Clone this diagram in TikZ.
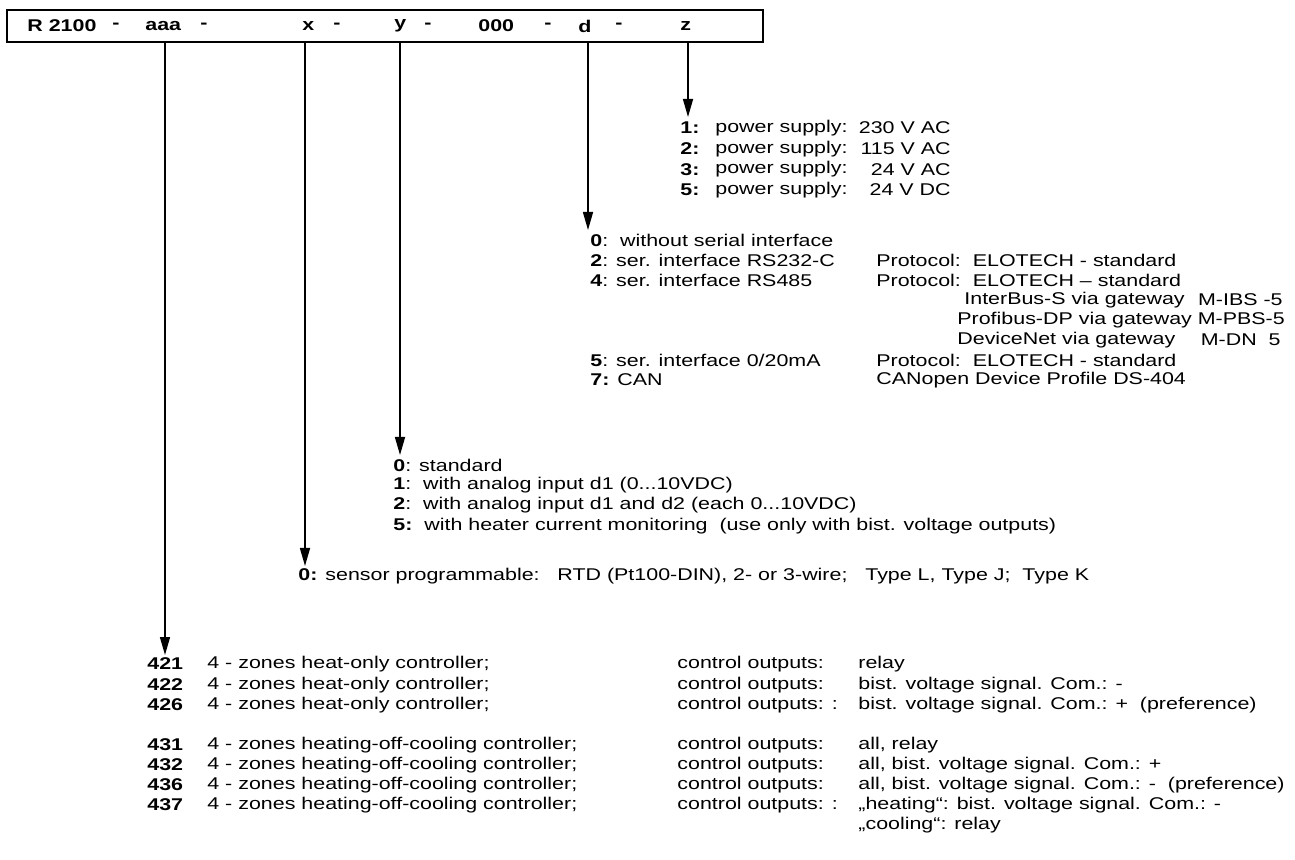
\documentclass[tikz,border=0pt]{standalone}
\usepackage{fontspec}
\setmainfont{Liberation Sans}[FakeStretch=1.26]
\usetikzlibrary{arrows.meta}

\tikzset{
  entry/.style={anchor=west, inner sep=0pt},
  rentry/.style={anchor=east, inner sep=0pt},
  field/.style={entry, font=\fontsize{8.5}{10}\selectfont\bfseries},
  lead/.style={line width=0.75pt, -{Triangle[width=5pt,length=9pt]}},
}

\begin{document}
\begin{tikzpicture}[x=0.5pt, y=-0.5pt, font=\fontsize{8.5}{10}\selectfont]
    \useasboundingbox (0,0) rectangle (1295,860);

    % Type code box
    \node[draw, line width=1pt, minimum width=378pt, minimum height=16pt, inner sep=0pt] (code) at (385,26) {};
    \foreach \px/\txt in {27/R 2100, 112/-, 145/aaa, 200/-, 302/x, 333/-, 394/y, 424/-, 478/000, 544/-, 578/d, 615/-, 680/z}
        \node[field] at (\px,26) {\txt};

    % Lead positions under the fields
    \coordinate (caaa) at (165,0);
    \coordinate (cx) at (305,0);
    \coordinate (cy) at (400,0);
    \coordinate (cd) at (588,0);
    \coordinate (cz) at (688,0);
    \coordinate (eaaa) at (165,655);
    \coordinate (ex) at (305,566);
    \coordinate (ey) at (400,455);
    \coordinate (ed) at (588,230);
    \coordinate (ez) at (688,117);

    \draw[lead] (code.south -| caaa) -- (eaaa);
    \draw[lead] (code.south -| cx) -- (ex);
    \draw[lead] (code.south -| cy) -- (ey);
    \draw[lead] (code.south -| cd) -- (ed);
    \draw[lead] (code.south -| cz) -- (ez);

    % z: power supply
    \foreach \n/\v [count=\i] in {1/230 V AC, 2/115 V AC, 3/24 V AC, 5/24 V DC} {
        \node[entry] (zn\i) at (680,{128+(\i-1)*20.7}) {\textbf{\n:}};
        \node[entry] (z\i) at (715,{128+(\i-1)*20.7}) {power supply:};
        \node[rentry] (zv\i) at (951,{128+(\i-1)*20.7}) {\v};
    }

    % d: serial interface
    \node[entry] (d0) at (590,240) {\textbf{0}:~~without serial interface};
    \node[entry] (d2) at (590,260) {\textbf{2}: ser. interface RS232-C};
    \node[entry] (d4) at (590,280) {\textbf{4}: ser. interface RS485};
    \node[entry] (d5) at (590,360) {\textbf{5}: ser. interface 0/20mA};
    \node[entry] (d7) at (590,380) {\textbf{7:} CAN};
    \node[entry] (p2) at (876,260) {Protocol:~~ELOTECH - standard};
    \node[entry] (p4) at (876,280) {Protocol:~~ELOTECH – standard};
    \node[entry] (g1) at (964,300) {InterBus-S via gateway};
    \node[entry] (g2) at (957,320) {Profibus-DP via gateway M-PBS-5};
    \node[entry] (g3) at (957,340) {DeviceNet via gateway};
    \node[rentry] (m1) at (1283,300) {M-IBS -5};
    \node[rentry] (m3) at (1281,340) {M-DN~~5};
    \node[entry] (p5) at (876,360) {Protocol:~~ELOTECH - standard};
    \node[entry] (p7) at (876,380) {CANopen Device Profile DS-404};

    % y: inputs
    \node[entry] (y0) at (393,465) {\textbf{0}: standard};
    \node[entry] (y1) at (393,485) {\textbf{1}:~~with analog input d1 (0...10VDC)};
    \node[entry] (y2) at (393,505) {\textbf{2}:~~with analog input d1 and d2 (each 0...10VDC)};
    \node[entry] (y5) at (393,526) {\textbf{5:}~~with heater current monitoring~~(use only with bist. voltage outputs)};

    % x: sensor
    \node[entry] (x0) at (298,576) {\textbf{0:} sensor programmable:~~~RTD (Pt100-DIN), 2- or 3-wire;~~~Type L, Type J;~~Type K};

    % aaa: controller types
    \foreach \n/\d/\c/\v/\py in {
        421/heat-only/control outputs:/relay/664,
        422/heat-only/control outputs:/bist. voltage signal. Com.: -/685,
        426/heat-only/control outputs: :/bist. voltage signal. Com.: +~~(preference)/705,
        431/heating-off-cooling/control outputs:/{all, relay}/745,
        432/heating-off-cooling/control outputs:/{all, bist. voltage signal. Com.: +}/765,
        436/heating-off-cooling/control outputs:/{all, bist. voltage signal. Com.: -~~(preference)}/785,
        437/heating-off-cooling/control outputs: :/„heating“: bist. voltage signal. Com.: -/805} {
        \node[field] (n\n) at (147,\py) {\n};
        \node[entry] (t\n) at (207,\py) {4 - zones \d\ controller;};
        \node[entry] (c\n) at (677,\py) {\c};
        \node[entry] (v\n) at (858,\py) {\v};
    }
    \node[entry] (v437b) at (858,825) {„cooling“: relay};
\end{tikzpicture}
\end{document}
